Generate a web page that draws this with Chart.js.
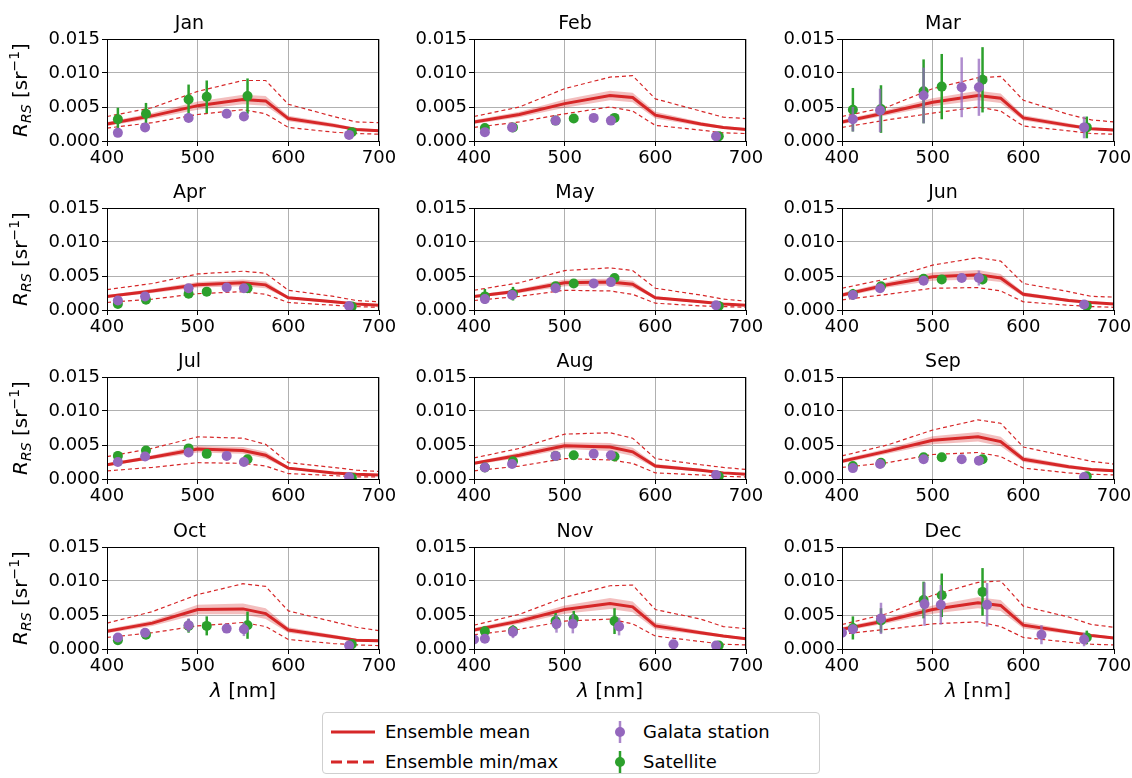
<!DOCTYPE html>
<html>
<head>
<meta charset="utf-8">
<script src="https://cdn.jsdelivr.net/npm/chart.js@4.4.0/dist/chart.umd.min.js"></script>
<style>
    body { margin: 0; background: #fff; width: 1132px; height: 778px; position: relative; overflow: hidden; font-family: "DejaVu Sans", sans-serif; }
    canvas { position: absolute; }
    #legend { position: absolute; left: 322px; top: 712px; width: 498px; height: 62px; border: 1px solid #cfcfcf; border-radius: 4px; box-sizing: border-box; }
    .item { position: absolute; font-size: 18px; color: #000; line-height: 22px; white-space: nowrap; }
    .item svg { position: absolute; }
</style>
</head>
<body>

<div id="legend">
    <div class="item" style="left:8px;top:8px;"><svg width="44" height="22" style="left:0;top:0"><line x1="0" y1="11" x2="44" y2="11" stroke="#d62728" stroke-width="3"/></svg><span style="margin-left:54px">Ensemble mean</span></div>
    <div class="item" style="left:8px;top:38px;"><svg width="44" height="22" style="left:0;top:0"><line x1="0" y1="11" x2="44" y2="11" stroke="#d62728" stroke-width="3" stroke-dasharray="11,5"/></svg><span style="margin-left:54px">Ensemble min/max</span></div>
    <div class="item" style="left:286px;top:8px;"><svg width="22" height="22" style="left:0;top:0"><line x1="11" y1="0" x2="11" y2="22" stroke="#9467bd" stroke-width="2.5" opacity="0.8"/><circle cx="11" cy="11" r="5" fill="#9467bd"/></svg><span style="margin-left:34px">Galata station</span></div>
    <div class="item" style="left:286px;top:38px;"><svg width="22" height="22" style="left:0;top:0"><line x1="11" y1="0" x2="11" y2="22" stroke="#2ca02c" stroke-width="2.5"/><circle cx="11" cy="11" r="5" fill="#2ca02c"/></svg><span style="margin-left:34px">Satellite</span></div>
</div>

<script>
const months = ['Jan', 'Feb', 'Mar', 'Apr', 'May', 'Jun', 'Jul', 'Aug', 'Sep', 'Oct', 'Nov', 'Dec'];

// ensemble wavelengths (nm)
const modelWl = [400, 450, 500, 550, 575, 600, 650, 675, 700];

const ensMean = [
    [0.0025, 0.0037, 0.0052, 0.0061, 0.0059, 0.0033, 0.0023, 0.0017, 0.0015],
    [0.0028, 0.0039, 0.0055, 0.0067, 0.0064, 0.0038, 0.0025, 0.0020, 0.0017],
    [0.0028, 0.0042, 0.0057, 0.0067, 0.0063, 0.0034, 0.0023, 0.0018, 0.0016],
    [0.0020, 0.0028, 0.0037, 0.0040, 0.0037, 0.0018, 0.0012, 0.0009, 0.0007],
    [0.0020, 0.0028, 0.0040, 0.0041, 0.0038, 0.0018, 0.0012, 0.0009, 0.0007],
    [0.0022, 0.0037, 0.0049, 0.0052, 0.0047, 0.0023, 0.0014, 0.0011, 0.0009],
    [0.0021, 0.0032, 0.0044, 0.0042, 0.0035, 0.0016, 0.0009, 0.0007, 0.0006],
    [0.0023, 0.0035, 0.0049, 0.0047, 0.0040, 0.0019, 0.0013, 0.0009, 0.0007],
    [0.0026, 0.0041, 0.0057, 0.0062, 0.0055, 0.0029, 0.0018, 0.0014, 0.0012],
    [0.0026, 0.0038, 0.0058, 0.0059, 0.0052, 0.0028, 0.0018, 0.0013, 0.0012],
    [0.0028, 0.0041, 0.0058, 0.0067, 0.0062, 0.0034, 0.0024, 0.0019, 0.0015],
    [0.0029, 0.0042, 0.0058, 0.0068, 0.0064, 0.0035, 0.0025, 0.0020, 0.0016],
];

const ensMax = [
    [0.0036, 0.0049, 0.0073, 0.0089, 0.0089, 0.0054, 0.0036, 0.0028, 0.0027],
    [0.0036, 0.0050, 0.0077, 0.0094, 0.0096, 0.0062, 0.0044, 0.0035, 0.0033],
    [0.0036, 0.0050, 0.0077, 0.0093, 0.0095, 0.0060, 0.0039, 0.0031, 0.0028],
    [0.0030, 0.0039, 0.0053, 0.0057, 0.0054, 0.0029, 0.0020, 0.0014, 0.0012],
    [0.0029, 0.0040, 0.0058, 0.0062, 0.0058, 0.0032, 0.0022, 0.0016, 0.0013],
    [0.0032, 0.0046, 0.0066, 0.0077, 0.0072, 0.0039, 0.0027, 0.0020, 0.0019],
    [0.0033, 0.0045, 0.0062, 0.0060, 0.0051, 0.0024, 0.0017, 0.0013, 0.0011],
    [0.0031, 0.0045, 0.0066, 0.0068, 0.0060, 0.0030, 0.0021, 0.0017, 0.0014],
    [0.0034, 0.0050, 0.0072, 0.0087, 0.0082, 0.0047, 0.0033, 0.0026, 0.0022],
    [0.0038, 0.0055, 0.0080, 0.0096, 0.0092, 0.0056, 0.0040, 0.0032, 0.0027],
    [0.0035, 0.0051, 0.0076, 0.0093, 0.0094, 0.0058, 0.0044, 0.0033, 0.0030],
    [0.0036, 0.0052, 0.0079, 0.0098, 0.0100, 0.0063, 0.0047, 0.0036, 0.0032],
];

const ensMin = [
    [0.0019, 0.0027, 0.0039, 0.0046, 0.0040, 0.0020, 0.0013, 0.0011, 0.0010],
    [0.0020, 0.0028, 0.0040, 0.0050, 0.0044, 0.0023, 0.0016, 0.0012, 0.0011],
    [0.0020, 0.0031, 0.0041, 0.0050, 0.0044, 0.0022, 0.0015, 0.0011, 0.0010],
    [0.0011, 0.0016, 0.0024, 0.0027, 0.0023, 0.0011, 0.0007, 0.0005, 0.0004],
    [0.0014, 0.0020, 0.0029, 0.0028, 0.0023, 0.0010, 0.0006, 0.0005, 0.0004],
    [0.0015, 0.0023, 0.0032, 0.0033, 0.0028, 0.0012, 0.0007, 0.0005, 0.0004],
    [0.0012, 0.0017, 0.0024, 0.0023, 0.0019, 0.0008, 0.0005, 0.0003, 0.0003],
    [0.0012, 0.0019, 0.0030, 0.0028, 0.0023, 0.0009, 0.0006, 0.0004, 0.0003],
    [0.0017, 0.0024, 0.0036, 0.0039, 0.0033, 0.0016, 0.0009, 0.0007, 0.0006],
    [0.0017, 0.0024, 0.0034, 0.0039, 0.0033, 0.0014, 0.0008, 0.0006, 0.0005],
    [0.0021, 0.0029, 0.0041, 0.0044, 0.0037, 0.0019, 0.0011, 0.0007, 0.0006],
    [0.0022, 0.0029, 0.0037, 0.0040, 0.0033, 0.0017, 0.0010, 0.0007, 0.0006],
];

// half width of the shaded band around the mean
const ensSpread = [
    [0.0003, 0.0004, 0.0006, 0.0007, 0.0007, 0.0004, 0.0003, 0.0002, 0.0002],
    [0.0003, 0.0004, 0.0006, 0.0007, 0.0007, 0.0005, 0.0003, 0.0002, 0.0002],
    [0.0003, 0.0004, 0.0006, 0.0007, 0.0007, 0.0004, 0.0003, 0.0002, 0.0002],
    [0.0002, 0.0003, 0.0004, 0.0005, 0.0005, 0.0002, 0.0002, 0.0001, 0.0001],
    [0.0002, 0.0003, 0.0005, 0.0005, 0.0005, 0.0002, 0.0002, 0.0001, 0.0001],
    [0.0003, 0.0004, 0.0006, 0.0007, 0.0006, 0.0003, 0.0002, 0.0002, 0.0001],
    [0.0002, 0.0003, 0.0005, 0.0005, 0.0005, 0.0002, 0.0001, 0.0001, 0.0001],
    [0.0002, 0.0004, 0.0005, 0.0006, 0.0006, 0.0003, 0.0002, 0.0001, 0.0001],
    [0.0003, 0.0004, 0.0006, 0.0007, 0.0007, 0.0004, 0.0003, 0.0002, 0.0002],
    [0.0003, 0.0004, 0.0007, 0.0008, 0.0008, 0.0004, 0.0003, 0.0002, 0.0002],
    [0.0003, 0.0004, 0.0006, 0.0008, 0.0008, 0.0005, 0.0003, 0.0002, 0.0002],
    [0.0003, 0.0004, 0.0006, 0.0008, 0.0008, 0.0005, 0.0003, 0.0002, 0.0002],
];

// Galata station (in situ)
const galataWl = [412, 442, 490, 532, 551, 667];
const galataWlWinter = [400, 412, 443, 491, 509, 560, 620, 667];
const galataY = [
    [0.0012, 0.0020, 0.0034, 0.0040, 0.0036, 0.0009],
    [0.0013, 0.0020, 0.0030, 0.0034, 0.0030, 0.0007],
    [0.0032, 0.0045, 0.0067, 0.0079, 0.0079, 0.0020],
    [0.0014, 0.0020, 0.0032, 0.0033, 0.0032, 0.0006],
    [0.0016, 0.0022, 0.0032, 0.0039, 0.0041, 0.0007],
    [0.0022, 0.0032, 0.0043, 0.0047, 0.0047, 0.0008],
    [0.0025, 0.0033, 0.0039, 0.0034, 0.0025, 0.0003],
    [0.0017, 0.0022, 0.0034, 0.0037, 0.0035, 0.0006],
    [0.0016, 0.0022, 0.0029, 0.0029, 0.0027, 0.0003],
    [0.0017, 0.0024, 0.0035, 0.0030, 0.0029, 0.0005],
    [0.0014, 0.0015, 0.0025, 0.0037, 0.0037, 0.0033, 0.0007, 0.0005],
    [0.0024, 0.0029, 0.0045, 0.0066, 0.0065, 0.0065, 0.0021, 0.0014],
];
const galataErr = [
    [0.0002, 0.0002, 0.0003, 0.0003, 0.0003, 0.0001],
    [0.0002, 0.0002, 0.0002, 0.0002, 0.0002, 0.0001],
    [0.0018, 0.0032, 0.0041, 0.0044, 0.0042, 0.0016],
    [0.0002, 0.0002, 0.0002, 0.0002, 0.0002, 0.0001],
    [0.0003, 0.0003, 0.0003, 0.0002, 0.0002, 0.0001],
    [0.0005, 0.0004, 0.0004, 0.0004, 0.0011, 0.0002],
    [0.0003, 0.0002, 0.0002, 0.0002, 0.0002, 0.0001],
    [0.0002, 0.0002, 0.0002, 0.0002, 0.0002, 0.0001],
    [0.0002, 0.0002, 0.0002, 0.0002, 0.0002, 0.0001],
    [0.0003, 0.0003, 0.0010, 0.0006, 0.0010, 0.0001],
    [0.0004, 0.0004, 0.0009, 0.0013, 0.0014, 0.0013, 0.0003, 0.0002],
    [0.0007, 0.0007, 0.0023, 0.0032, 0.0029, 0.0032, 0.0014, 0.0010],
];

// Satellite
const satWl = [412, 443, 490, 510, 555, 670];
const satY = [
    [0.0032, 0.0040, 0.0061, 0.0065, 0.0066, 0.0013],
    [0.0019, 0.0020, 0.0030, 0.0033, 0.0034, 0.0007],
    [0.0046, 0.0047, 0.0073, 0.0080, 0.0090, 0.0020],
    [0.0009, 0.0015, 0.0024, 0.0027, 0.0032, 0.0005],
    [0.0020, 0.0024, 0.0035, 0.0039, 0.0047, 0.0006],
    [0.0023, 0.0035, 0.0046, 0.0045, 0.0045, 0.0006],
    [0.0034, 0.0042, 0.0045, 0.0037, 0.0029, 0.0002],
    [0.0017, 0.0026, 0.0034, 0.0035, 0.0033, 0.0004],
    [0.0019, 0.0024, 0.0032, 0.0032, 0.0029, 0.0004],
    [0.0013, 0.0021, 0.0034, 0.0034, 0.0035, 0.0007],
    [0.0026, 0.0027, 0.0041, 0.0044, 0.0041, 0.0005],
    [0.0031, 0.0042, 0.0072, 0.0079, 0.0084, 0.0017],
];
const satErr = [
    [0.0017, 0.0016, 0.0022, 0.0024, 0.0026, 0.0003],
    [0.0004, 0.0003, 0.0002, 0.0003, 0.0003, 0.0001],
    [0.0032, 0.0035, 0.0047, 0.0048, 0.0048, 0.0016],
    [0.0002, 0.0002, 0.0002, 0.0002, 0.0002, 0.0001],
    [0.0011, 0.0010, 0.0006, 0.0005, 0.0005, 0.0001],
    [0.0008, 0.0006, 0.0005, 0.0004, 0.0007, 0.0001],
    [0.0007, 0.0003, 0.0003, 0.0002, 0.0002, 0.0001],
    [0.0002, 0.0002, 0.0002, 0.0002, 0.0002, 0.0001],
    [0.0002, 0.0002, 0.0002, 0.0002, 0.0002, 0.0001],
    [0.0003, 0.0003, 0.0010, 0.0014, 0.0020, 0.0001],
    [0.0007, 0.0008, 0.0012, 0.0012, 0.0019, 0.0002],
    [0.0017, 0.0018, 0.0027, 0.0032, 0.0035, 0.0010],
];

const yTicks = [0, 0.005, 0.010, 0.015];
const xTicks = [400, 500, 600, 700];

const RED = '#d62728';
const PURPLE = '#9467bd';
const GREEN = '#2ca02c';
const FONT = '"DejaVu Sans", sans-serif';

// panel geometry
const colLeft = [107, 474, 842];
const rowTop = [39, 208, 377, 547];
const plotW = 272;
const plotH = 102;

const toPoints = (xs, ys) => xs.map((x, i) => ({ x: x, y: ys[i] }));

// vertical error bars, drawn under the markers
const errorBars = {
    id: 'errorBars',
    beforeDatasetDraw(chart, args) {
        const ds = chart.data.datasets[args.index];
        if (!ds.errors) return;
        const { ctx, chartArea, scales } = chart;
        ctx.save();
        ctx.beginPath();
        ctx.rect(chartArea.left, chartArea.top, chartArea.width, chartArea.height);
        ctx.clip();
        ctx.strokeStyle = ds.errorColor;
        ctx.lineWidth = 2.5;
        ds.data.forEach((p, i) => {
            const e = ds.errors[i];
            if (!e) return;
            const px = scales.x.getPixelForValue(p.x);
            ctx.beginPath();
            ctx.moveTo(px, scales.y.getPixelForValue(p.y - e));
            ctx.lineTo(px, scales.y.getPixelForValue(p.y + e));
            ctx.stroke();
        });
        ctx.restore();
    }
};

// the box round the axes
const frame = {
    id: 'frame',
    afterDatasetsDraw(chart) {
        const { ctx, chartArea } = chart;
        ctx.save();
        ctx.strokeStyle = '#000';
        ctx.lineWidth = 1;
        ctx.strokeRect(Math.round(chartArea.left) + 0.5, Math.round(chartArea.top) + 0.5,
            Math.round(chartArea.width) - 1, Math.round(chartArea.height));
        ctx.restore();
    }
};

// axis labels with sub/superscripts
const drawParts = (ctx, parts, x, y) => {
    let total = 0;
    parts.forEach(p => { ctx.font = p.f; p.w = ctx.measureText(p.t).width; total += p.w; });
    let cx = x - total / 2;
    parts.forEach(p => { ctx.font = p.f; ctx.fillText(p.t, cx, y + p.dy); cx += p.w; });
};

const axisTitles = {
    id: 'axisTitles',
    afterDraw(chart, args, opts) {
        const { ctx, chartArea } = chart;
        ctx.save();
        ctx.fillStyle = '#000';
        ctx.textBaseline = 'alphabetic';
        if (opts.yTitle) {
            ctx.save();
            ctx.translate(opts.yTitleX, (chartArea.top + chartArea.bottom) / 2);
            ctx.rotate(-Math.PI / 2);
            drawParts(ctx, [
                { t: 'R', f: 'italic 20px ' + FONT, dy: 0 },
                { t: 'RS', f: 'italic 14px ' + FONT, dy: 4 },
                { t: ' [sr', f: '20px ' + FONT, dy: 0 },
                { t: '\u22121', f: '14px ' + FONT, dy: -8 },
                { t: ']', f: '20px ' + FONT, dy: 0 },
            ], 0, 7);
            ctx.restore();
        }
        if (opts.xTitle) {
            drawParts(ctx, [
                { t: '\u03bb', f: 'italic 20px ' + FONT, dy: 0 },
                { t: ' [nm]', f: '20px ' + FONT, dy: 0 },
            ], (chartArea.left + chartArea.right) / 2, chartArea.bottom + 48);
        }
        ctx.restore();
    }
};

months.forEach((name, m) => {
    const row = Math.floor(m / 3);
    const col = m % 3;
    const yAxisW = col === 0 ? 107 : 70;
    const titleH = 30;
    const xAxisH = row === 3 ? 60 : 26;
    const padRight = 24;

    const canvas = document.createElement('canvas');
    const w = yAxisW + plotW + padRight;
    const h = titleH + plotH + xAxisH;
    canvas.width = w;
    canvas.height = h;
    canvas.style.width = w + 'px';
    canvas.style.height = h + 'px';
    canvas.style.left = (colLeft[col] - yAxisW) + 'px';
    canvas.style.top = (rowTop[row] - titleH) + 'px';
    document.body.appendChild(canvas);

    const bandLo = ensMean[m].map((v, i) => v - ensSpread[m][i]);
    const bandHi = ensMean[m].map((v, i) => v + ensSpread[m][i]);
    const gWl = m >= 10 ? galataWlWinter : galataWl;

    new Chart(canvas.getContext('2d'), {
        type: 'line',
        data: {
            datasets: [{
                label: 'band low',
                data: toPoints(modelWl, bandLo),
                borderWidth: 0,
                pointRadius: 0,
                fill: false,
                order: 9,
            }, {
                label: 'band high',
                data: toPoints(modelWl, bandHi),
                borderWidth: 0,
                pointRadius: 0,
                fill: '-1',
                backgroundColor: 'rgba(214, 39, 40, 0.3)',
                order: 8,
            }, {
                label: 'Ensemble max',
                data: toPoints(modelWl, ensMax[m]),
                borderColor: RED,
                borderWidth: 1.2,
                borderDash: [4, 3],
                pointRadius: 0,
                fill: false,
                order: 6,
            }, {
                label: 'Ensemble min',
                data: toPoints(modelWl, ensMin[m]),
                borderColor: RED,
                borderWidth: 1.2,
                borderDash: [4, 3],
                pointRadius: 0,
                fill: false,
                order: 5,
            }, {
                label: 'Ensemble mean',
                data: toPoints(modelWl, ensMean[m]),
                borderColor: RED,
                borderWidth: 3,
                pointRadius: 0,
                fill: false,
                order: 4,
            }, {
                label: 'Satellite',
                data: toPoints(satWl, satY[m]),
                errors: satErr[m],
                errorColor: GREEN,
                showLine: false,
                pointRadius: 5,
                pointBorderWidth: 0,
                pointBackgroundColor: GREEN,
                order: 2,
            }, {
                label: 'Galata station',
                data: toPoints(gWl, galataY[m]),
                errors: galataErr[m],
                errorColor: 'rgba(148, 103, 189, 0.75)',
                showLine: false,
                pointRadius: 5,
                pointBorderWidth: 0,
                pointBackgroundColor: PURPLE,
                order: 1,
            }]
        },
        options: {
            responsive: false,
            animation: false,
            events: [],
            clip: 0,
            layout: {
                padding: { left: 0, right: padRight, top: 0, bottom: 0 }
            },
            plugins: {
                legend: { display: false },
                tooltip: { enabled: false },
                title: {
                    display: true,
                    text: name,
                    color: '#000',
                    font: { family: FONT, size: 19, weight: 'normal', lineHeight: 1.2 },
                    padding: { top: 4, bottom: 3.2 },
                },
                axisTitles: {
                    yTitle: col === 0,
                    yTitleX: 20,
                    xTitle: row === 3,
                },
            },
            scales: {
                x: {
                    type: 'linear',
                    min: 400,
                    max: 700,
                    afterFit: (scale) => { scale.height = xAxisH; },
                    afterBuildTicks: (scale) => { scale.ticks = xTicks.map(v => ({ value: v })); },
                    ticks: {
                        color: '#000',
                        font: { family: FONT, size: 18 },
                        maxRotation: 0,
                        autoSkip: false,
                        padding: 2,
                        callback: (v) => String(v),
                    },
                    grid: { color: '#b0b0b0', lineWidth: 1, tickColor: '#000', tickLength: 5 },
                    border: { display: true, color: '#000' },
                },
                y: {
                    type: 'linear',
                    min: 0,
                    max: 0.015,
                    afterFit: (scale) => { scale.width = yAxisW; },
                    afterBuildTicks: (scale) => { scale.ticks = yTicks.map(v => ({ value: v })); },
                    ticks: {
                        color: '#000',
                        font: { family: FONT, size: 18 },
                        padding: 2,
                        callback: (v) => v.toFixed(3),
                    },
                    grid: { color: '#b0b0b0', lineWidth: 1, tickColor: '#000', tickLength: 5 },
                    border: { display: true, color: '#000' },
                }
            }
        },
        plugins: [errorBars, frame, axisTitles]
    });
});
</script>
</body>
</html>
